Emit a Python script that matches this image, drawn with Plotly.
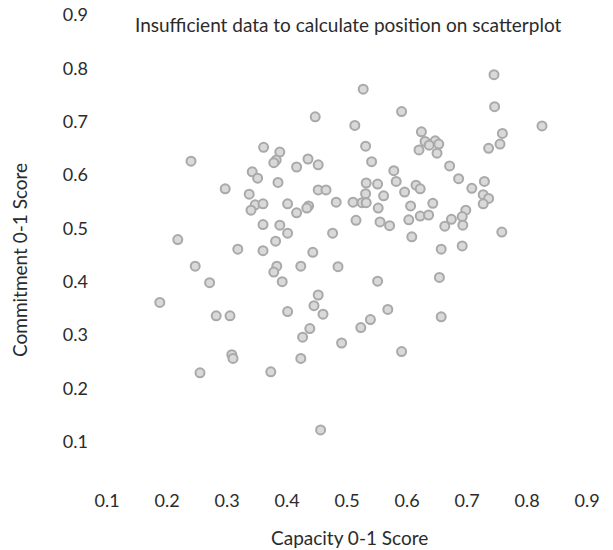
import plotly.graph_objects as go

# Capacity (x) and Commitment (y) 0-1 scores
capacity = [
    0.447, 0.361, 0.388, 0.240, 0.382, 0.378, 0.435, 0.452, 0.416, 0.342,
    0.351, 0.385, 0.297, 0.337, 0.452, 0.465, 0.347, 0.360, 0.340, 0.401,
    0.482, 0.436, 0.433, 0.416, 0.360, 0.388, 0.401, 0.476, 0.218, 0.381,
    0.318, 0.360, 0.443, 0.247, 0.383, 0.378, 0.423, 0.485, 0.271, 0.392,
    0.188, 0.452, 0.445, 0.460, 0.401, 0.282, 0.305, 0.438, 0.426, 0.491,
    0.308, 0.310, 0.423, 0.255, 0.373, 0.456,
    0.745, 0.527, 0.591, 0.746, 0.513, 0.825, 0.624, 0.759, 0.630, 0.647,
    0.637, 0.653, 0.620, 0.650, 0.755, 0.736, 0.531, 0.541, 0.578, 0.671,
    0.686, 0.729, 0.532, 0.551, 0.582, 0.615, 0.622, 0.708, 0.531, 0.561,
    0.596, 0.510, 0.525, 0.532, 0.727, 0.736, 0.727, 0.552, 0.606, 0.643,
    0.698, 0.692, 0.674, 0.693, 0.663, 0.622, 0.636, 0.603, 0.515, 0.555,
    0.571, 0.758, 0.608, 0.657, 0.692,
    0.551, 0.654, 0.568, 0.539, 0.523, 0.657, 0.591,
]
commitment = [
    0.709, 0.652, 0.643, 0.626, 0.628, 0.623, 0.630, 0.619, 0.615, 0.606,
    0.594, 0.586, 0.574, 0.564, 0.572, 0.572, 0.544, 0.546, 0.534, 0.546,
    0.549, 0.542, 0.538, 0.529, 0.507, 0.506, 0.491, 0.491, 0.479, 0.476,
    0.461, 0.458, 0.455, 0.429, 0.429, 0.418, 0.429, 0.428, 0.398, 0.400,
    0.361, 0.375, 0.355, 0.339, 0.344, 0.336, 0.336, 0.312, 0.296, 0.285,
    0.263, 0.256, 0.256, 0.229, 0.231, 0.122,
    0.788, 0.761, 0.719, 0.728, 0.693, 0.692, 0.681, 0.678, 0.663, 0.664,
    0.656, 0.658, 0.647, 0.641, 0.658, 0.650, 0.654, 0.625, 0.608, 0.617,
    0.593, 0.588, 0.585, 0.583, 0.588, 0.581, 0.574, 0.575, 0.565, 0.561,
    0.568, 0.549, 0.548, 0.548, 0.563, 0.556, 0.546, 0.538, 0.542, 0.547,
    0.534, 0.522, 0.517, 0.506, 0.504, 0.523, 0.525, 0.516, 0.515, 0.512,
    0.505, 0.493, 0.484, 0.461, 0.467,
    0.401, 0.408, 0.348, 0.329, 0.314, 0.334, 0.269,
]

tick_vals = [0.1, 0.2, 0.3, 0.4, 0.5, 0.6, 0.7, 0.8, 0.9]
tick_text = ["0.1", "0.2", "0.3", "0.4", "0.5", "0.6", "0.7", "0.8", "0.9"]

x_title = "Capacity 0-1 Score"
y_title = "Commitment 0-1 Score"
note = "Insufficient data to calculate position on scatterplot"

FONT = "Lato"
TEXT = "#2b2b2b"

fig = go.Figure(
    go.Scatter(
        x=capacity,
        y=commitment,
        mode="markers",
        marker=dict(size=9, color="#d9d9d9", line=dict(color="#a9a9a9", width=2)),
        hoverinfo="x+y",
    )
)

fig.update_layout(
    width=613,
    height=550,
    margin=dict(l=95, r=26, t=15, b=55),
    paper_bgcolor="white",
    plot_bgcolor="white",
    showlegend=False,
    font=dict(family=FONT, size=18, color=TEXT),
    xaxis=dict(
        range=[0.08, 0.9],
        tickvals=tick_vals,
        ticktext=tick_text,
        showgrid=False,
        zeroline=False,
        showline=False,
        ticks="",
        automargin=False,
        ticklabelstandoff=-7,
        tickfont=dict(size=18, color=TEXT),
    ),
    yaxis=dict(
        range=[0.0, 0.9],
        tickvals=tick_vals,
        ticktext=tick_text,
        showgrid=False,
        zeroline=False,
        showline=False,
        ticks="",
        automargin=False,
        tickfont=dict(size=18, color=TEXT),
        ticklabelstandoff=6,
    ),
    annotations=[
        dict(
            text=note, xref="paper", yref="paper", x=0.516, y=0.981,
            xanchor="center", yanchor="middle", showarrow=False,
            font=dict(family=FONT, size=19, color=TEXT),
        ),
        dict(
            text=x_title, xref="paper", yref="paper", x=0.518, y=-0.0875,
            xanchor="center", yanchor="middle", showarrow=False,
            font=dict(family=FONT, size=19, color=TEXT),
        ),
        dict(
            text=y_title, xref="paper", yref="paper", x=-0.1524, y=0.4896,
            xanchor="center", yanchor="middle", showarrow=False, textangle=-90,
            font=dict(family=FONT, size=19, color=TEXT),
        ),
    ],
)

fig.write_html(
    "out.html",
    config={"displayModeBar": False},
    post_script="document.body.style.margin='0';",
)
